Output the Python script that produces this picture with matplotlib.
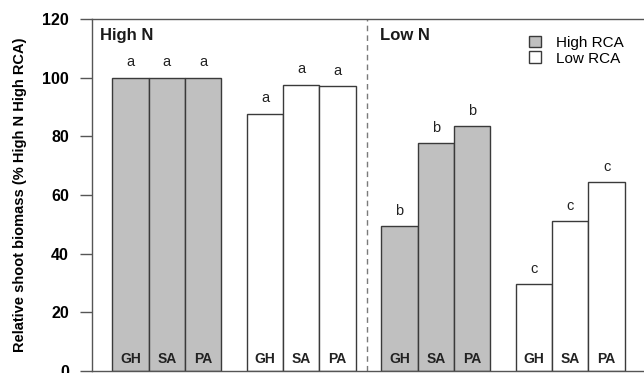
import matplotlib
matplotlib.use("Agg")
import matplotlib.pyplot as plt
from matplotlib.patches import Patch

plt.rcParams['font.family'] = ['Liberation Sans', 'DejaVu Sans']

# Data
accessions = ["GH", "SA", "PA"]
high_n_high_rca = [100.0, 100.0, 100.0]
high_n_low_rca = [87.7, 97.6, 97.1]
low_n_high_rca = [49.4, 77.8, 83.4]
low_n_low_rca = [29.6, 51.0, 64.4]
letters_high_n_high_rca = ["a", "a", "a"]
letters_high_n_low_rca = ["a", "a", "a"]
letters_low_n_high_rca = ["b", "b", "b"]
letters_low_n_low_rca = ["c", "c", "c"]
yticks = [0, 20, 40, 60, 80, 100, 120]

gray = "#c0c0c0"
edge = "#3a3a3a"

fig = plt.figure(figsize=(6.44, 3.73), dpi=100)
ax = fig.add_axes([91.7 / 644, 2 / 373, 1 - 91.7 / 644, 352 / 373])

groups = [
    (high_n_high_rca, letters_high_n_high_rca, gray),
    (high_n_low_rca, letters_high_n_low_rca, "white"),
    (low_n_high_rca, letters_low_n_high_rca, gray),
    (low_n_low_rca, letters_low_n_low_rca, "white"),
]
first_center = 1.07
group_step = 3.705
for g, (vals, lets, color) in enumerate(groups):
    xs = [first_center + g * group_step + i for i in range(len(vals))]
    ax.bar(xs, vals, width=1.0, color=color, edgecolor=edge, linewidth=1.0, zorder=2)
    for x, v, lt, acc in zip(xs, vals, lets, accessions):
        ax.text(x, v + 5.2, lt, ha="center", va="center", fontsize=10.5, color="#222222")
        ax.text(x, 4.0, acc, ha="center", va="center", fontsize=10,
                fontweight="bold", color="#222222")

ax.axvline(7.58, color="#7a7a7a", linestyle=(0, (4, 3)), linewidth=1.0, zorder=1)

ax.text(0.22, 114.3, "High N", fontsize=12, fontweight="bold", va="center", ha="left",
        color="#1a1a1a")
ax.text(7.93, 114.3, "Low N", fontsize=12, fontweight="bold", va="center", ha="left",
        color="#1a1a1a")

handles = [Patch(facecolor=gray, edgecolor=edge, linewidth=1.0, label="High RCA"),
           Patch(facecolor="white", edgecolor=edge, linewidth=1.0, label="Low RCA")]
ax.legend(handles=handles, loc="upper left", bbox_to_anchor=(0.78, 0.97),
          frameon=False, fontsize=11, handlelength=0.8, handleheight=0.8,
          handletextpad=1.0, labelspacing=0.1, borderaxespad=0)

ax.set_xlim(0, (644 - 91.7) / 36.3)
ax.set_ylim(0, 120)
ax.set_yticks(yticks)
ax.set_yticklabels([str(t) for t in yticks], fontweight="bold", fontsize=11.5)
ax.set_xticks([])
ax.tick_params(axis="y", length=8.5, width=1.0, color="#555555", pad=8)
for s in ["left", "top", "bottom"]:
    ax.spines[s].set_color("#555555")
    ax.spines[s].set_linewidth(1.0)
ax.spines["right"].set_visible(False)
ax.set_ylabel("Relative shoot biomass (% High N High RCA)", fontweight="bold",
              fontsize=10.5, labelpad=11)

fig.savefig("out.png", dpi=100)
